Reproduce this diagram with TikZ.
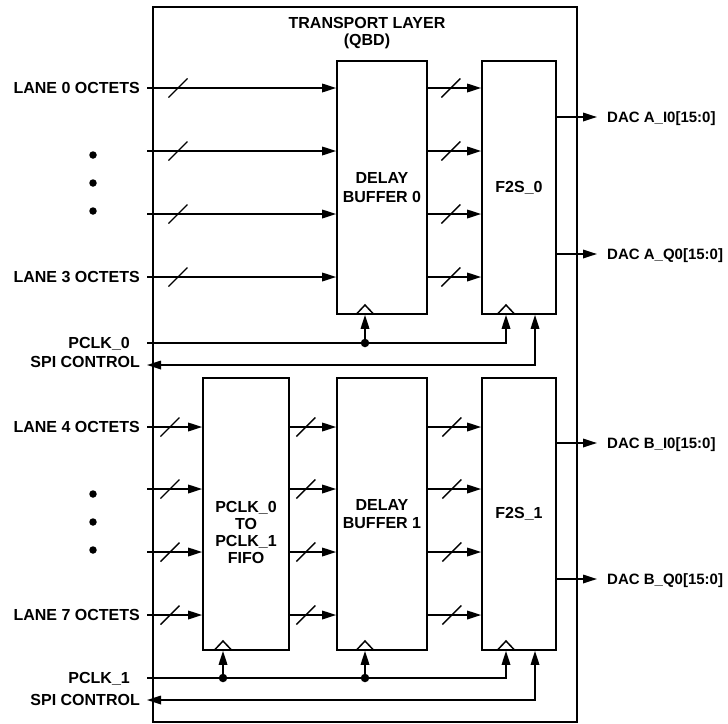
\documentclass[tikz,border=0pt]{standalone}
\usepackage{fontspec}
\setmainfont{Liberation Sans}
\usetikzlibrary{arrows.meta,decorations.markings}

\begin{document}
\begin{tikzpicture}[
            x=1pt, y=-1pt,
            block/.style={
                    draw,
                    rectangle,
                    line width=1.6pt,
                    align=center,
                    font=\bfseries\fontsize{16}{18.5}\selectfont,
                    inner sep=0pt,
                    minimum width=90pt,
                    minimum height=253pt
                },
            lbl/.style={
                    font=\bfseries\fontsize{16}{17}\selectfont,
                    inner sep=0pt,
                    text height=11pt,
                    text depth=0pt
                },
            dac/.style={
                    lbl,
                    font=\bfseries\fontsize{15}{17}\selectfont
                },
            sig/.style={
                    -{Triangle[length=14pt,width=8.5pt]},
                    line width=1.7pt
                },
            spi/.style={
                    {Triangle[length=14pt,width=8.5pt]}-{Triangle[length=14pt,width=8.5pt]},
                    line width=1.7pt
                },
            bus/.style={
                    sig,
                    postaction={decorate, decoration={markings,
                                mark=at position #1 with {\draw[-, line width=1.4pt] (-9.5pt,-9.5pt) -- (9.5pt,9.5pt);}}}
                },
            junction/.style={
                    circle,
                    fill,
                    inner sep=0pt,
                    minimum size=8.5pt
                },
            clock/.pic={\draw[line width=1.5pt] (-8.5pt,0pt) -- (0pt,9pt) -- (8.5pt,0pt);}
        ]

        \useasboundingbox (0,0) rectangle (728,723);

        % ---- outer frame ----
        \node[draw, line width=2.4pt, inner sep=0pt, minimum width=424pt, minimum height=715pt] (tl) at (365,364.5) {};
        \node[lbl, align=center, text height=, text depth=] (title) at (367,33.5) {TRANSPORT LAYER\\(QBD)};

        % ---- blocks ----
        \node[block] (db0) at (382,187.5) {DELAY\\BUFFER 0};
        \node[block, minimum width=74pt] (f2s0) at (519,187.5) {F2S\_0};
        \node[block, minimum width=86pt, minimum height=272pt] (fifo) at (246,514) {};
        \node[lbl, align=center, text height=, text depth=] (fifotext) at (246,532) {PCLK\_0\\TO\\PCLK\_1\\FIFO};
        \node[block, minimum height=272pt] (db1) at (382,514) {DELAY\\BUFFER 1};
        \node[block, minimum width=74pt, minimum height=272pt] (f2s1) at (519,514) {F2S\_1};

        \pic at (365,314) {clock};
        \pic at (506,314) {clock};
        \pic at (223,650) {clock};
        \pic at (365,650) {clock};
        \pic at (506,650) {clock};

        % ---- left labels ----
        \node[lbl, anchor=east] (lane0) at (140,88) {LANE 0 OCTETS};
        \node[lbl, anchor=east] (lane3) at (140,277) {LANE 3 OCTETS};
        \node[lbl, anchor=east] (pclk0) at (130,343) {PCLK\_0};
        \node[lbl, anchor=east] (spi0) at (140,362) {SPI CONTROL};
        \node[lbl, anchor=east] (lane4) at (140,427) {LANE 4 OCTETS};
        \node[lbl, anchor=east] (lane7) at (140,615) {LANE 7 OCTETS};
        \node[lbl, anchor=east] (pclk1) at (130,678) {PCLK\_1};
        \node[lbl, anchor=east] (spi1) at (140,700) {SPI CONTROL};

        \node[junction, minimum size=7.5pt] (e0) at (93,155) {};
        \node[junction, minimum size=7.5pt] (e1) at (93,183) {};
        \node[junction, minimum size=7.5pt] (e2) at (93,211) {};
        \node[junction, minimum size=7.5pt] (e3) at (93,494) {};
        \node[junction, minimum size=7.5pt] (e4) at (93,522) {};
        \node[junction, minimum size=7.5pt] (e5) at (93,550) {};

        % ---- right labels ----
        \node[dac, anchor=west] (dacai) at (607,117) {DAC A\_I0[15:0]};
        \node[dac, anchor=west] (dacaq) at (607,254) {DAC A\_Q0[15:0]};
        \node[dac, anchor=west] (dacbi) at (607,443) {DAC B\_I0[15:0]};
        \node[dac, anchor=west] (dacbq) at (607,579) {DAC B\_Q0[15:0]};

        % ---- inputs, top half ----
        \coordinate (in0) at (147,88);
        \coordinate (in1) at (147,151);
        \coordinate (in2) at (147,214);
        \coordinate (in3) at (147,277);

        \draw[bus=31pt] (in0) -- (in0 -| db0.west);
        \draw[bus=31pt] (in1) -- (in1 -| db0.west);
        \draw[bus=31pt] (in2) -- (in2 -| db0.west);
        \draw[bus=31pt] (in3) -- (in3 -| db0.west);

        \draw[bus=23pt] (in0 -| db0.east) -- (in0 -| f2s0.west);
        \draw[bus=23pt] (in1 -| db0.east) -- (in1 -| f2s0.west);
        \draw[bus=23pt] (in2 -| db0.east) -- (in2 -| f2s0.west);
        \draw[bus=23pt] (in3 -| db0.east) -- (in3 -| f2s0.west);

        \draw[sig, shorten >=10pt] (f2s0.east |- dacai) -- (dacai.west);
        \draw[sig, shorten >=10pt] (f2s0.east |- dacaq) -- (dacaq.west);

        % ---- clock and control, top half ----
        \coordinate (ck0) at (147,343);
        \coordinate (sc0) at (147,365);
        \node[junction] (j0) at (365,343) {};

        \draw[sig] (ck0) -| ([xshift=-13pt]f2s0.south);
        \draw[sig] (j0.center) -- (j0.center |- db0.south);
        \draw[spi] (sc0) -| ([xshift=16pt]f2s0.south);

        % ---- inputs, bottom half ----
        \coordinate (in4) at (147,427);
        \coordinate (in5) at (147,489);
        \coordinate (in6) at (147,552);
        \coordinate (in7) at (147,615);

        \draw[bus=23pt] (in4) -- (in4 -| fifo.west);
        \draw[bus=23pt] (in5) -- (in5 -| fifo.west);
        \draw[bus=23pt] (in6) -- (in6 -| fifo.west);
        \draw[bus=23pt] (in7) -- (in7 -| fifo.west);

        \draw[bus=16pt] (in4 -| fifo.east) -- (in4 -| db1.west);
        \draw[bus=16pt] (in5 -| fifo.east) -- (in5 -| db1.west);
        \draw[bus=16pt] (in6 -| fifo.east) -- (in6 -| db1.west);
        \draw[bus=16pt] (in7 -| fifo.east) -- (in7 -| db1.west);

        \draw[bus=24pt] (in4 -| db1.east) -- (in4 -| f2s1.west);
        \draw[bus=24pt] (in5 -| db1.east) -- (in5 -| f2s1.west);
        \draw[bus=24pt] (in6 -| db1.east) -- (in6 -| f2s1.west);
        \draw[bus=24pt] (in7 -| db1.east) -- (in7 -| f2s1.west);

        \draw[sig, shorten >=10pt] (f2s1.east |- dacbi) -- (dacbi.west);
        \draw[sig, shorten >=10pt] (f2s1.east |- dacbq) -- (dacbq.west);

        % ---- clock and control, bottom half ----
        \coordinate (ck1) at (147,678);
        \coordinate (sc1) at (147,700);
        \node[junction] (j1) at (223,678) {};
        \node[junction] (j2) at (365,678) {};

        \draw[sig] (ck1) -| ([xshift=-13pt]f2s1.south);
        \draw[sig] (j1.center) -- (j1.center |- fifo.south);
        \draw[sig] (j2.center) -- (j2.center |- db1.south);
        \draw[spi] (sc1) -| ([xshift=16pt]f2s1.south);

    \end{tikzpicture}
\end{document}
